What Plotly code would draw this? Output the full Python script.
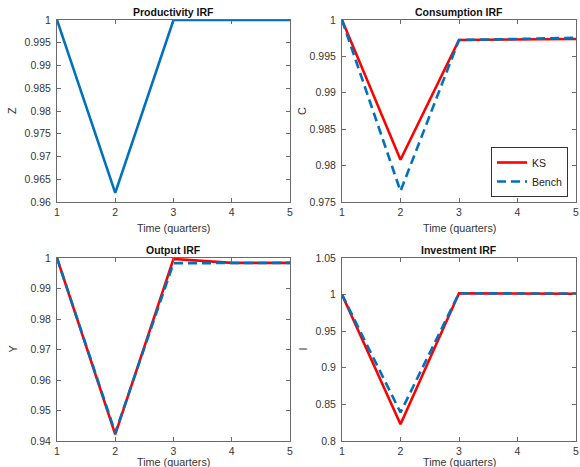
import plotly.graph_objects as go

# ---------------- data ----------------
time = [1, 2, 3, 4, 5]

z_irf = [1.0, 0.962, 1.0, 1.0, 1.0]

c_ks = [1.0, 0.9808, 0.99725, 0.99733, 0.9974]
c_bench = [1.0, 0.9765, 0.99725, 0.9974, 0.99755]

y_ks = [1.0, 0.9422, 0.9997, 0.9984, 0.9984]
y_bench = [1.0, 0.9427, 0.9983, 0.9984, 0.9984]

i_ks = [1.0, 0.823, 1.0018, 1.0015, 1.0012]
i_bench = [1.0, 0.839, 1.0018, 1.0016, 1.0014]

x_ticks = [1, 2, 3, 4, 5]
z_ticks = [0.96, 0.965, 0.97, 0.975, 0.98, 0.985, 0.99, 0.995, 1.0]
z_labels = ["0.96", "0.965", "0.97", "0.975", "0.98", "0.985", "0.99", "0.995", "1"]
c_ticks = [0.975, 0.98, 0.985, 0.99, 0.995, 1.0]
c_labels = ["0.975", "0.98", "0.985", "0.99", "0.995", "1"]
y_ticks = [0.94, 0.95, 0.96, 0.97, 0.98, 0.99, 1.0]
y_labels = ["0.94", "0.95", "0.96", "0.97", "0.98", "0.99", "1"]
i_ticks = [0.8, 0.85, 0.9, 0.95, 1.0, 1.05]
i_labels = ["0.8", "0.85", "0.9", "0.95", "1", "1.05"]

titles = ["Productivity IRF", "Consumption IRF", "Output IRF", "Investment IRF"]
ylabels = ["Z", "C", "Y", "I"]
xlabel = "Time (quarters)"

# ---------------- style ----------------
W, H = 580, 467
BLUE = "#0072BD"
RED = "#FF0000"
LW = 2.6
DASH = "9px,5px"
FONT = "Liberation Sans, Arial, sans-serif"
AXC = "#6a6a6a"
TXT = "#363636"

def px_x(p):
    return p / W

def px_y(p):
    return 1 - p / H

# pixel boxes: (left, right, top, bottom)
boxes = [
    (57, 290, 20, 202),
    (342, 576, 20, 202),
    (57, 290, 258, 441),
    (342, 576, 258, 441),
]

fig = go.Figure()

fig.add_trace(go.Scatter(x=time, y=z_irf, mode="lines", showlegend=False,
                         line=dict(color=BLUE, width=LW), xaxis="x", yaxis="y"))

fig.add_trace(go.Scatter(x=time, y=c_ks, mode="lines", name="KS",
                         line=dict(color=RED, width=LW), xaxis="x2", yaxis="y2"))
fig.add_trace(go.Scatter(x=time, y=c_bench, mode="lines", name="Bench",
                         line=dict(color=BLUE, width=LW, dash=DASH), xaxis="x2", yaxis="y2"))

fig.add_trace(go.Scatter(x=time, y=y_ks, mode="lines", showlegend=False,
                         line=dict(color=RED, width=LW), xaxis="x3", yaxis="y3"))
fig.add_trace(go.Scatter(x=time, y=y_bench, mode="lines", showlegend=False,
                         line=dict(color=BLUE, width=LW, dash=DASH), xaxis="x3", yaxis="y3"))

fig.add_trace(go.Scatter(x=time, y=i_ks, mode="lines", showlegend=False,
                         line=dict(color=RED, width=LW), xaxis="x4", yaxis="y4"))
fig.add_trace(go.Scatter(x=time, y=i_bench, mode="lines", showlegend=False,
                         line=dict(color=BLUE, width=LW, dash=DASH), xaxis="x4", yaxis="y4"))

yranges = [(0.96, 1.0), (0.975, 1.0), (0.94, 1.0), (0.8, 1.05)]
yticks = [(z_ticks, z_labels), (c_ticks, c_labels), (y_ticks, y_labels), (i_ticks, i_labels)]

layout = dict(
    template="none",
    width=W, height=H,
    margin=dict(l=0, r=0, t=0, b=0, pad=0, autoexpand=False),
    paper_bgcolor="white", plot_bgcolor="white",
    font=dict(family=FONT, size=10, color=TXT),
    showlegend=True,
    legend=dict(x=px_x(568), y=px_y(197), xanchor="right", yanchor="bottom",
                bgcolor="white", bordercolor="#333333", borderwidth=1,
                font=dict(size=10.5, color="#222222"), tracegroupgap=0,
                itemwidth=30, orientation="v"),
)

annotations = []
for k, (l, r, t, b) in enumerate(boxes):
    sx = "" if k == 0 else str(k + 1)
    xa = "xaxis" + sx
    ya = "yaxis" + sx
    layout[xa] = dict(
        domain=[px_x(l), px_x(r)], anchor="y" + sx, range=[1, 5], automargin=False,
        tickmode="array", tickvals=x_ticks, ticktext=[str(v) for v in x_ticks],
        ticks="inside", ticklen=4, tickcolor=AXC, showline=True, linecolor=AXC,
        linewidth=1, mirror="ticks", showgrid=False, zeroline=False,
        tickfont=dict(size=10.5, color=TXT), fixedrange=True,
    )
    tv, tt = yticks[k]
    layout[ya] = dict(
        domain=[px_y(b), px_y(t)], anchor="x" + sx, range=list(yranges[k]), automargin=False,
        tickmode="array", tickvals=tv, ticktext=tt,
        ticks="inside", ticklen=4, tickcolor=AXC, showline=True, linecolor=AXC,
        linewidth=1, mirror="ticks", showgrid=False, zeroline=False,
        tickfont=dict(size=10.5, color=TXT), ticklabelstandoff=3, fixedrange=True,
    )
    cx = (l + r) / 2
    annotations.append(dict(text="<b>" + titles[k] + "</b>", x=px_x(cx), y=px_y(t - 8),
                            xref="paper", yref="paper", showarrow=False,
                            xanchor="center", yanchor="middle",
                            font=dict(size=10.5, color="#111111")))
    annotations.append(dict(text=xlabel, x=px_x(cx), y=px_y(b + (26 if k < 2 else 21)),
                            xref="paper", yref="paper", showarrow=False,
                            xanchor="center", yanchor="middle",
                            font=dict(size=10.8, color=TXT)))
    annotations.append(dict(text=ylabels[k], x=px_x(l - 45 if k in (0, 2) else l - 40),
                            y=px_y((t + b) / 2), textangle=-90,
                            xref="paper", yref="paper", showarrow=False,
                            xanchor="center", yanchor="middle",
                            font=dict(size=10.8, color=TXT)))

layout["annotations"] = annotations
fig.update_layout(**layout)

fig.write_html(
    "out.html",
    config={"displayModeBar": False},
    post_script="document.body.style.margin='0';document.body.style.padding='0';"
                "document.documentElement.style.overflow='hidden';",
)
